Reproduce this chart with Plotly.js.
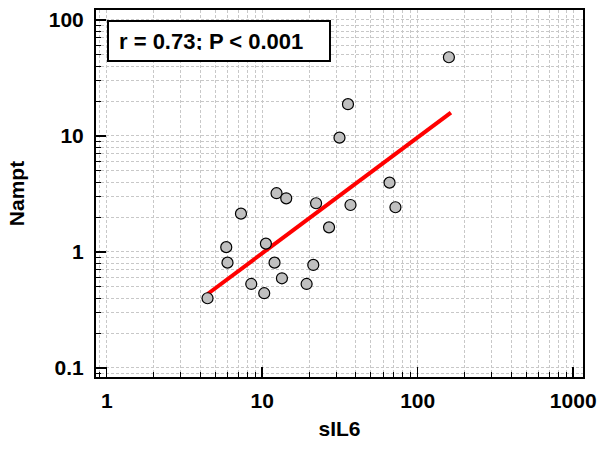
<!DOCTYPE html>
<html>
<head>
<meta charset="utf-8">
<script src="https://cdn.plot.ly/plotly-3.0.1.min.js"></script>
<style>html,body{margin:0;padding:0;background:#fff;}#chart{width:603px;height:451px;}</style>
</head>
<body>
<div id="chart"></div>
<script>
// Scatter data
const sIL6 = [4.45, 5.87, 5.98, 7.30, 8.50, 10.3, 10.56, 12.36, 14.27, 12.0, 13.39, 22.2, 26.9, 21.3, 19.3, 158.7, 35.6, 31.4, 65.9, 36.96, 71.9];
const nampt = [0.399, 1.10, 0.809, 2.14, 0.530, 0.441, 1.18, 3.21, 2.90, 0.809, 0.593, 2.63, 1.63, 0.773, 0.530, 47.7, 18.8, 9.67, 3.96, 2.54, 2.43];
// Regression line endpoints
const fitX = [4.45, 163.5];
const fitY = [0.434, 15.9];
const statText = "r = 0.73; P < 0.001";
const xTitle = "sIL6";
const yTitle = "Nampt";

const font = "Liberation Sans, Arial, sans-serif";
const gridCol = "#c8c8c8";

const traces = [
  {x: fitX, y: fitY, type: "scatter", mode: "lines", line: {color: "#ff0000", width: 4}, hoverinfo: "skip"},
  {x: sIL6, y: nampt, type: "scatter", mode: "markers",
   marker: {size: 11, color: "#c0c0c0", line: {color: "#000", width: 1.2}}}
];

const axisCommon = {
  type: "log", dtick: 1, exponentformat: "none",
  showline: true, linecolor: "#000", linewidth: 2, mirror: true,
  ticks: "inside", ticklen: 10, tickwidth: 1.5, tickcolor: "#000",
  showgrid: true, gridcolor: gridCol, griddash: "3px,2px", gridwidth: 1,
  zeroline: false,
  tickfont: {family: font, size: 21, color: "#000", weight: "bold"},
  minor: {dtick: "D1", ticks: "inside", ticklen: 5, tickwidth: 1, tickcolor: "#000",
          showgrid: true, gridcolor: gridCol, griddash: "3px,2px", gridwidth: 1}
};

const layout = {
  width: 603, height: 451,
  margin: {l: 96, r: 20, t: 10, b: 74},
  paper_bgcolor: "#fff", plot_bgcolor: "#fff",
  showlegend: false,
  font: {family: font, color: "#000"},
  xaxis: Object.assign({}, axisCommon, {
    range: [-0.069, 3.063],
    ticklabelstandoff: 4,
    title: {text: xTitle, font: {family: font, size: 21, weight: "bold", color: "#000"}, standoff: 10}
  }),
  yaxis: Object.assign({}, axisCommon, {
    range: [-1.078, 2.086],
    ticklabelstandoff: 6,
    title: {text: yTitle, font: {family: font, size: 21, weight: "bold", color: "#000"}, standoff: 18}
  }),
  annotations: [{
    text: "<b>" + statText + "</b>", xref: "paper", yref: "paper",
    x: 0.0226, y: 0.9728, xanchor: "left", yanchor: "top",
    showarrow: false, align: "left",
    font: {family: font, size: 22, color: "#000"},
    bordercolor: "#000", borderwidth: 2, borderpad: 10, bgcolor: "#fff",
    width: 200, height: 18
  }]
};

Plotly.newPlot("chart", traces, layout, {displayModeBar: false, staticPlot: true});
</script>
</body>
</html>
